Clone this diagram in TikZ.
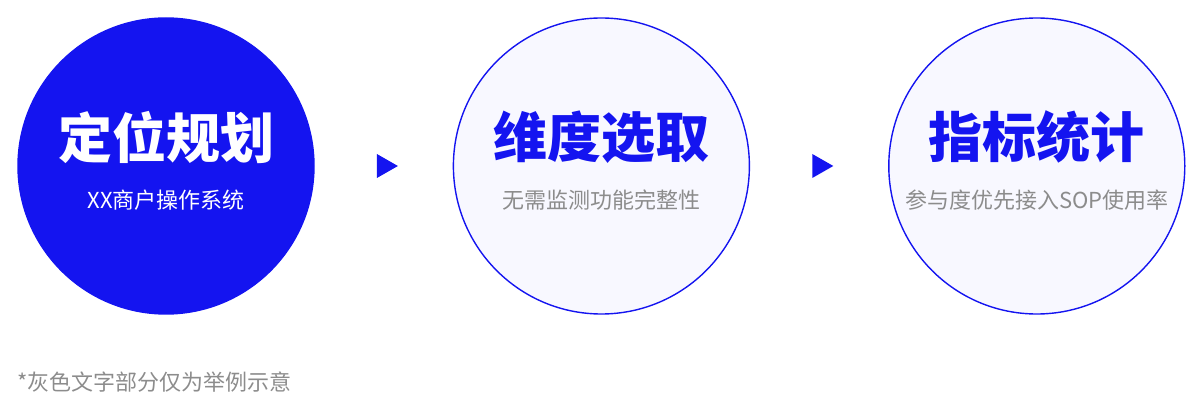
\documentclass[tikz,border=0pt]{standalone}
\usepackage{fontspec}
\setmainfont{Noto Sans CJK SC}
\usetikzlibrary{positioning,shapes.geometric}
\definecolor{mainblue}{RGB}{20,20,240}
\definecolor{palefill}{RGB}{248,248,255}
\definecolor{notegray}{RGB}{140,140,140}
\begin{document}
\begin{tikzpicture}[x=1pt, y=1pt, node distance=138pt,
                stage/.style={draw=mainblue, circle, line width=1.4pt, fill=palefill, minimum size=296pt, inner sep=0pt},
                heading/.style={font=\fontsize{54}{54}\selectfont\bfseries, text=mainblue, inner sep=0pt},
                remark/.style={font=\fontsize{22}{22}\selectfont, text=notegray, inner sep=0pt},
                pointer/.style={isosceles triangle, isosceles triangle stretches, fill=mainblue, minimum height=21pt, minimum width=24pt, inner sep=0pt}
            ]
            \useasboundingbox (0,0) rectangle (1200,410);
            % three stages
            \node[stage, fill=mainblue] (locate) at (166,244) {};
            \node[stage, right=of locate] (dimension) {};
            \node[stage, right=of dimension] (metric) {};
            % arrows between
            \node[pointer, right=62pt of locate] (p1) {};
            \node[pointer, right=62pt of dimension] (p2) {};
            % texts
            \node[heading, text=white] (h1) at ([yshift=29pt]locate.center) {定位规划};
            \node[remark, text=white] (r1) at ([yshift=-34pt]locate.center) {XX商户操作系统};
            \node[heading] (h2) at ([yshift=29pt]dimension.center) {维度选取};
            \node[remark] (r2) at ([yshift=-34pt]dimension.center) {无需监测功能完整性};
            \node[heading] (h3) at ([yshift=29pt]metric.center) {指标统计};
            \node[remark] (r3) at ([yshift=-34pt]metric.center) {参与度优先接入SOP使用率};
            \node[remark, anchor=west] (foot) at (17,28) {*灰色文字部分仅为举例示意};
\end{tikzpicture}
\end{document}
